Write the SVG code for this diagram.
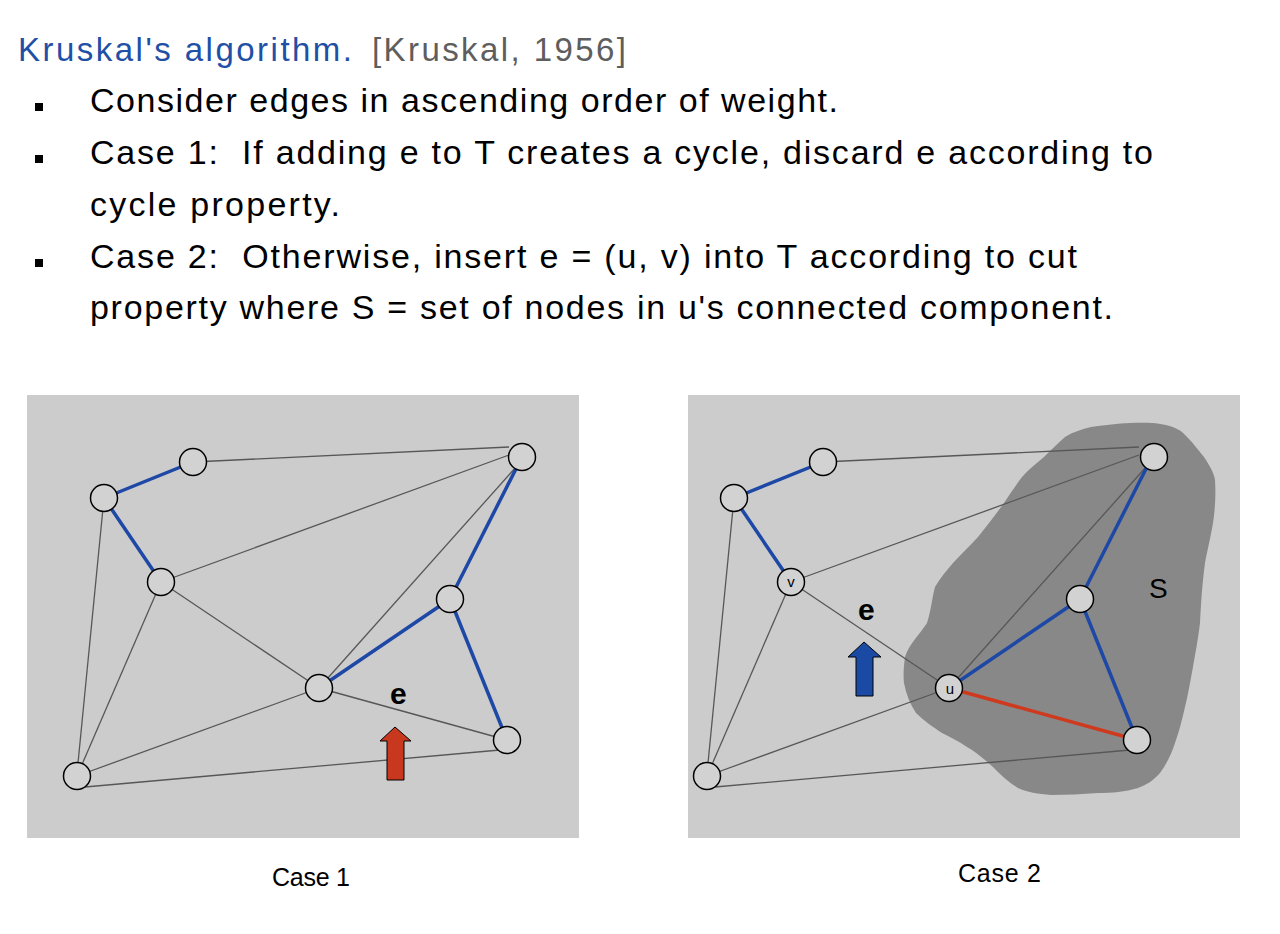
<svg xmlns="http://www.w3.org/2000/svg" width="1280" height="934" viewBox="0 0 1280 934">
<style>
  .t { font-family: "Liberation Sans", "DejaVu Sans", sans-serif; font-size: 34px; fill: #000; white-space: pre; }
  .title { font-family: "Liberation Sans", "DejaVu Sans", sans-serif; font-size: 33px; fill: #1f4fa6; }
  .cite { font-family: "Liberation Sans", "DejaVu Sans", sans-serif; font-size: 33px; fill: #5e5e5e; }
  .cap { font-family: "Liberation Sans", "DejaVu Sans", sans-serif; font-size: 25px; fill: #000; }
  .lbl { font-family: "Liberation Sans", "DejaVu Sans", sans-serif; font-size: 30px; fill: #000; font-weight: bold; }
  .nl { font-family: "Liberation Sans", "DejaVu Sans", sans-serif; font-size: 15px; fill: #000; text-anchor: middle; }
  .panel { fill: #cccccc; }
  .g { stroke: #575757; stroke-width: 1.3; fill: none; }
  .b { stroke: #1d48a6; stroke-width: 3.5; fill: none; }
  .r { stroke: #cf3a1e; stroke-width: 3.5; fill: none; }
  .n { fill: #d2d2d2; stroke: #000; stroke-width: 1.5; }
  .bul { fill: #000; }
</style>
<rect width="1280" height="934" fill="#ffffff"/>

<g id="heading">
  <text class="title" x="18" y="61" textLength="334" lengthAdjust="spacing">Kruskal's algorithm.</text>
  <text class="cite" x="372" y="61" textLength="254" lengthAdjust="spacing">[Kruskal, 1956]</text>
</g>
<g id="bullets">
  <rect class="bul" x="35" y="103" width="8" height="8"/>
  <rect class="bul" x="35" y="155" width="8" height="8"/>
  <rect class="bul" x="35" y="259" width="8" height="8"/>
  <text class="t" x="90" y="112" textLength="748" lengthAdjust="spacing">Consider edges in ascending order of weight.</text>
  <text class="t" x="90" y="164" textLength="1063" lengthAdjust="spacing" xml:space="preserve">Case 1:  If adding e to T creates a cycle, discard e according to</text>
  <text class="t" x="90" y="216" textLength="250" lengthAdjust="spacing">cycle property.</text>
  <text class="t" x="90" y="268" textLength="987" lengthAdjust="spacing" xml:space="preserve">Case 2:  Otherwise, insert e = (u, v) into T according to cut</text>
  <text class="t" x="90" y="319" textLength="1023" lengthAdjust="spacing">property where S = set of nodes in u's connected component.</text>
</g>

<!-- Case 1 panel -->
<g id="panel1">
  <rect class="panel" x="27" y="395" width="552" height="443"/>
</g>
<g id="connectors1">
  <line class="g" x1="193" y1="462" x2="509" y2="447"/>
  <line class="g" x1="161" y1="582" x2="509" y2="455"/>
  <line class="g" x1="319" y1="688" x2="516" y2="467"/>
  <line class="g" x1="161" y1="582" x2="319" y2="688"/>
  <line class="g" x1="104" y1="498" x2="78" y2="763"/>
  <line class="g" x1="161" y1="582" x2="77" y2="776"/>
  <line class="g" x1="319" y1="688" x2="77" y2="776"/>
  <line class="g" x1="85" y1="787" x2="500" y2="750"/>
  <line class="g" x1="319" y1="688" x2="507" y2="740"/>
  <line class="b" x1="104" y1="498" x2="193" y2="462"/>
  <line class="b" x1="104" y1="498" x2="161" y2="582"/>
  <line class="b" x1="522" y1="457" x2="450" y2="599"/>
  <line class="b" x1="450" y1="599" x2="319" y2="688"/>
  <line class="b" x1="450" y1="599" x2="507" y2="740"/>
</g>
<g id="nodes1">
  <circle class="n" cx="193" cy="462" r="13.5"/>
  <circle class="n" cx="104" cy="498" r="13.5"/>
  <circle class="n" cx="161" cy="582" r="13.5"/>
  <circle class="n" cx="522" cy="457" r="13.5"/>
  <circle class="n" cx="450" cy="599" r="13.5"/>
  <circle class="n" cx="319" cy="688" r="13.5"/>
  <circle class="n" cx="507" cy="740" r="13.5"/>
  <circle class="n" cx="77" cy="776" r="13.5"/>
</g>
<g id="labels1">
  <text class="lbl" x="390" y="704">e</text>
  <path d="M395,727 L411,741 L404,741 L404,780 L387,780 L387,741 L380,741 Z" fill="#c8381f" stroke="#000" stroke-width="1"/>
  <text class="cap" x="272" y="886" textLength="78" lengthAdjust="spacing">Case 1</text>
</g>

<!-- Case 2 panel -->
<g id="panel2">
  <rect class="panel" x="688" y="395" width="552" height="443"/>
  <path fill="#888888" d="M1091,427 C1115,423 1140,422 1153,423 C1165,424 1176,427 1182,432 C1193,442 1198,450 1204,457 C1210,466 1214,473 1215,480 C1216,495 1215,510 1213,523 C1210,540 1207,552 1205,563 C1202,585 1201,605 1200,623 C1198,640 1195,655 1193,667 C1190,683 1188,695 1185,707 C1182,720 1179,732 1175,743 C1171,755 1166,765 1160,773 C1153,781 1146,785 1138,788 C1125,792 1112,793 1098,793 C1082,794 1066,795 1051,795 C1038,794 1027,792 1018,788 C1008,782 1000,774 993,767 C985,760 976,752 967,747 C958,741 950,737 942,733 C933,727 923,720 916,713 C910,704 906,694 904,683 C903,674 904,665 905,657 C909,644 920,634 927,623 C931,611 932,598 935,587 C940,578 947,570 953,563 C961,554 970,546 978,537 C987,526 996,514 1004,503 C1010,494 1016,485 1022,477 C1029,469 1037,463 1044,457 C1051,450 1058,443 1065,437 C1073,432 1082,429 1091,427 Z"/>
</g>
<g id="connectors2">
  <line class="g" x1="823" y1="462" x2="1139" y2="447"/>
  <line class="g" x1="791" y1="582" x2="1139" y2="455"/>
  <line class="g" x1="949" y1="688" x2="1146" y2="467"/>
  <line class="g" x1="791" y1="582" x2="949" y2="688"/>
  <line class="g" x1="734" y1="498" x2="708" y2="763"/>
  <line class="g" x1="791" y1="582" x2="707" y2="776"/>
  <line class="g" x1="949" y1="688" x2="707" y2="776"/>
  <line class="g" x1="715" y1="787" x2="1130" y2="750"/>
  <line class="r" x1="949" y1="688" x2="1137" y2="740"/>
  <line class="b" x1="734" y1="498" x2="823" y2="462"/>
  <line class="b" x1="734" y1="498" x2="791" y2="582"/>
  <line class="b" x1="1152" y1="457" x2="1080" y2="599"/>
  <line class="b" x1="1080" y1="599" x2="949" y2="688"/>
  <line class="b" x1="1080" y1="599" x2="1137" y2="740"/>
</g>
<g id="nodes2">
  <circle class="n" cx="823" cy="462" r="13.5"/>
  <circle class="n" cx="734" cy="498" r="13.5"/>
  <g id="node-v"><circle class="n" cx="791" cy="582" r="13.5"/><text class="nl" x="791" y="587">v</text></g>
  <circle class="n" cx="1154" cy="457" r="13.5"/>
  <circle class="n" cx="1080" cy="599" r="13.5"/>
  <g id="node-u"><circle class="n" cx="949" cy="688" r="13.5"/><text class="nl" x="950" y="694">u</text></g>
  <circle class="n" cx="1137" cy="740" r="13.5"/>
  <circle class="n" cx="707" cy="776" r="13.5"/>
</g>
<g id="labels2">
  <text class="lbl" x="858" y="620">e</text>
  <text class="lbl" x="1149" y="598" style="font-weight:normal;font-size:28px">S</text>
  <path d="M864,642 L881,657 L873,657 L873,696 L856,696 L856,657 L848,657 Z" fill="#1b4aa5" stroke="#000" stroke-width="1"/>
  <text class="cap" x="958" y="882" textLength="83" lengthAdjust="spacing">Case 2</text>
</g>
</svg>
